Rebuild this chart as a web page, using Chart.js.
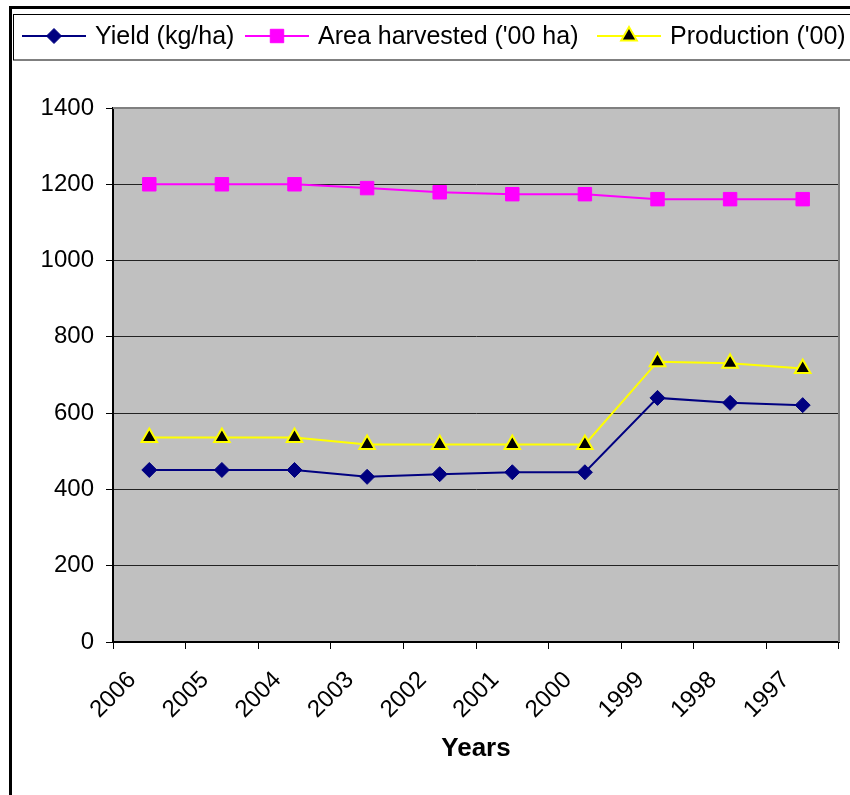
<!DOCTYPE html>
<html>
<head>
<meta charset="utf-8">
<style>
  html, body { margin: 0; padding: 0; background: #fff; }
  #wrap { width: 850px; height: 795px; position: relative; }
</style>
<script src="https://cdn.jsdelivr.net/npm/chart.js@4.4.1/dist/chart.umd.min.js"></script>
</head>
<body>
<div id="wrap"><canvas id="chart"></canvas></div>
<script>
// Categories (x axis tick labels), newest year first
const years = ['2006', '2005', '2004', '2003', '2002', '2001', '2000', '1999', '1998', '1997'];

// Series values
const yieldKgHa     = [451, 451, 451, 433, 440, 445, 445, 640, 627, 621];
const areaHarvested = [1200, 1200, 1200, 1190, 1179, 1174, 1174, 1161, 1161, 1161];
const production    = [536, 536, 536, 518, 518, 518, 518, 735, 731, 717];

// Value axis range
const yAxisMin = 0;
const yAxisMax = 1400;
const yAxisStep = 200;

const FONT = "'Liberation Sans', Arial, sans-serif";

const seriesStyles = [
  { label: 'Yield (kg/ha)',           line: '#000080', fill: '#000080', edge: '#000080', shape: 'diamond',  r: 7.5 },
  { label: "Area harvested ('00 ha)", line: '#FF00FF', fill: '#FF00FF', edge: '#FF00FF', shape: 'square',   r: 9.5 },
  { label: "Production ('00)",        line: '#FFFF00', fill: '#000000', edge: '#FFFF00', shape: 'triangle', r: 9 }
];

// Left edge of each legend entry's sample line
const legendStarts = [22, 245, 597];

function markerPath(ctx, shape, x, y, r) {
  ctx.beginPath();
  if (shape === 'diamond') {
    ctx.moveTo(x, y - r); ctx.lineTo(x + r, y); ctx.lineTo(x, y + r); ctx.lineTo(x - r, y);
  } else if (shape === 'square') {
    const h = r * Math.SQRT1_2;
    ctx.rect(x - h, y - h, 2 * h, 2 * h);
  } else {
    const s = r * 0.866;
    ctx.moveTo(x, y - r); ctx.lineTo(x + s, y + r / 2); ctx.lineTo(x - s, y + r / 2);
  }
  ctx.closePath();
}

// Grey plot area with its grey top and right edges
const plotFrame = {
  id: 'plotFrame',
  beforeDraw(chart) {
    const { ctx, chartArea: a } = chart;
    ctx.save();
    ctx.fillStyle = '#C0C0C0';
    ctx.fillRect(a.left, a.top, a.right - a.left, a.bottom - a.top);
    ctx.restore();
  },
  beforeDatasetsDraw(chart) {
    const { ctx, chartArea: a } = chart;
    ctx.save();
    ctx.strokeStyle = '#808080';
    ctx.lineWidth = 2;
    ctx.beginPath();
    ctx.moveTo(a.left, a.top);
    ctx.lineTo(a.right, a.top);
    ctx.lineTo(a.right, a.bottom);
    ctx.stroke();
    ctx.restore();
  }
};

// Outer frame and boxed legend along the top
const frameLegend = {
  id: 'frameLegend',
  afterDraw(chart) {
    const ctx = chart.ctx;
    ctx.save();
    ctx.strokeStyle = '#000';
    ctx.lineWidth = 3;
    ctx.beginPath();
    ctx.moveTo(10.5, 900);
    ctx.lineTo(10.5, 7.5);
    ctx.lineTo(900, 7.5);
    ctx.stroke();

    ctx.lineWidth = 1;
    ctx.strokeRect(13.5, 14.5, 900, 45.5);

    const cy = 36;
    ctx.font = '25px ' + FONT;
    ctx.textBaseline = 'middle';
    ctx.textAlign = 'left';
    chart.data.datasets.forEach((ds, i) => {
      const st = seriesStyles[i];
      const x = legendStarts[i];
      ctx.strokeStyle = st.line;
      ctx.lineWidth = 2;
      ctx.beginPath();
      ctx.moveTo(x, cy);
      ctx.lineTo(x + 64, cy);
      ctx.stroke();
      markerPath(ctx, st.shape, x + 32, cy, st.r);
      ctx.fillStyle = st.fill;
      ctx.fill();
      ctx.lineWidth = st.shape === 'triangle' ? 2 : 1;
      ctx.strokeStyle = st.edge;
      ctx.stroke();
      ctx.fillStyle = '#000';
      ctx.fillText(ds.label, x + 73, cy + 1);
    });
    ctx.restore();
  }
};

const valueSeries = [yieldKgHa, areaHarvested, production];

const datasets = valueSeries.map((vals, i) => {
  const st = seriesStyles[i];
  return {
    label: st.label,
    data: vals,
    borderColor: st.line,
    backgroundColor: st.fill,
    borderWidth: 2,
    tension: 0,
    pointStyle: st.shape === 'diamond' ? 'rectRot' : st.shape === 'square' ? 'rect' : 'triangle',
    pointRadius: st.r,
    pointHoverRadius: st.r,
    pointBackgroundColor: st.fill,
    pointBorderColor: st.edge,
    pointBorderWidth: st.shape === 'triangle' ? 2 : 1
  };
});

new Chart(document.getElementById('chart'), {
  type: 'line',
  data: { labels: years, datasets },
  options: {
    responsive: true,
    maintainAspectRatio: false,
    animation: false,
    events: [],
    layout: { padding: { left: 0, top: 108, right: 10, bottom: 0 } },
    plugins: {
      legend: { display: false },
      tooltip: { enabled: false }
    },
    scales: {
      x: {
        type: 'category',
        offset: true,
        afterFit(scale) { scale.height = 153; },
        grid: {
          offset: true,
          drawOnChartArea: false,
          drawTicks: true,
          tickLength: 7,
          color: '#000'
        },
        border: { display: true, color: '#000', width: 2 },
        ticks: {
          autoSkip: false,
          maxRotation: 45,
          minRotation: 45,
          padding: 17,
          labelOffset: -17,
          color: '#000',
          font: { family: FONT, size: 24 }
        },
        title: {
          display: true,
          text: 'Years',
          color: '#000',
          font: { family: FONT, size: 26, weight: 'bold' },
          padding: { top: 0, bottom: 31 }
        }
      },
      y: {
        min: yAxisMin,
        max: yAxisMax,
        afterFit(scale) { scale.width = 113; },
        grid: {
          color: (c) => (c.tick && c.tick.value === yAxisMax ? '#808080' : '#222'),
          lineWidth: 1,
          tickLength: 7,
          tickColor: '#000'
        },
        border: { display: true, color: '#000', width: 2 },
        ticks: {
          stepSize: yAxisStep,
          padding: 12,
          color: '#000',
          font: { family: FONT, size: 24 },
          callback: (v) => String(v)
        }
      }
    }
  },
  plugins: [plotFrame, frameLegend]
});
</script>
</body>
</html>
